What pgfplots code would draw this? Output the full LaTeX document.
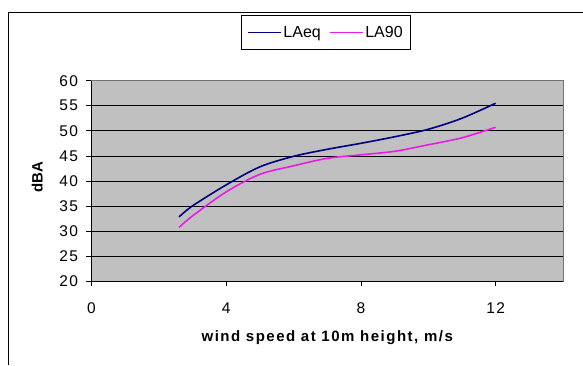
\documentclass[border=0pt]{standalone}
\usepackage{pgfplots}
\pgfplotsset{compat=1.18}
\usepackage{fontspec}
\setmainfont{Liberation Sans}
\newfontfamily\tickfont[LetterSpace=8]{Liberation Sans}
\newfontfamily\labfont[LetterSpace=10]{Liberation Sans}
\definecolor{plotgray}{HTML}{C0C0C0}
\definecolor{laeq}{HTML}{000080}
\definecolor{laninety}{HTML}{E81CE8}
\begin{document}
\begin{tikzpicture}[x=1pt,y=1pt]
\useasboundingbox (0,0) rectangle (583,365);
\draw[line width=0.8pt] (8.3,0) -- (8.3,353) -- (583,353);
\begin{axis}[
  at={(91.5pt,84pt)}, anchor=south west,
  scale only axis, width=471.5pt, height=200.3pt,
  xmin=0, xmax=14, ymin=20, ymax=60,
  xtick={0,4,8,12}, ytick={20,25,...,60},
  axis background/.style={fill=plotgray},
  axis line style={draw=gray!90!black, line width=0.6pt},
  ymajorgrids, grid style={black, line width=0.6pt},
  tick align=outside, tick pos=left,
  major tick length=5pt,
  tick style={black, line width=0.6pt},
  /pgf/number format/assume math mode=true,
  ticklabel style={font=\tickfont\fontsize{15.5}{15.5}\selectfont},
  xticklabel style={yshift=-13pt},
  yticklabel style={xshift=-5pt},
  xlabel={\labfont\bfseries wind speed at 10m height, m/s},
  xlabel style={font=\fontsize{15}{15}\selectfont, at={(axis description cs:0.5,-0.285)}, anchor=center},
  ylabel={\bfseries dBA},
  ylabel style={font=\fontsize{15}{15}\selectfont, at={(axis description cs:-0.115,0.52)}, anchor=center},
  legend style={at={(0.497,1.241)}, anchor=center, draw=black, line width=0.6pt,
    font=\fontsize{16}{16}\selectfont, inner xsep=6pt, inner ysep=9pt,
    /tikz/every even column/.append style={column sep=6pt}},
  legend columns=2,
  legend image code/.code={\draw[#1, line width=1.5pt] (0pt,0pt) -- (33pt,0pt);},
  clip=false,
]
\draw[black, line width=0.7pt] (rel axis cs:0,1) -- (rel axis cs:0,0) -- (rel axis cs:1,0);
\addplot[laeq, line width=1.6pt, smooth, tension=0.5] coordinates {
(2.6,32.8) (3,35.0) (4,39.2) (5,42.8) (6,44.9) (7,46.3) (8,47.5) (9,48.8) (10,50.3) (11,52.5) (12,55.5)
};
\addlegendentry{LAeq}
\addplot[laninety, line width=1.6pt, smooth, tension=0.5] coordinates {
(2.6,30.7) (3,33.0) (4,37.8) (5,41.3) (6,43.0) (7,44.5) (8,45.2) (9,45.9) (10,47.2) (11,48.6) (12,50.7)
};
\addlegendentry{LA90}
\end{axis}
\end{tikzpicture}
\end{document}
